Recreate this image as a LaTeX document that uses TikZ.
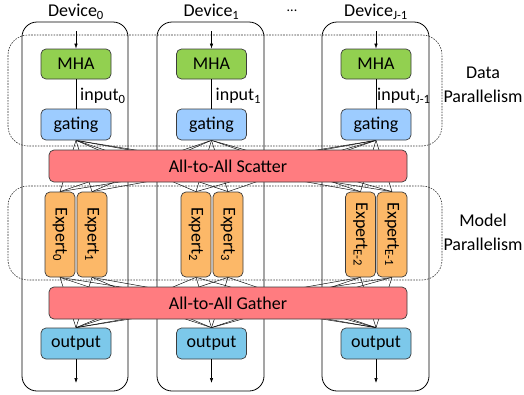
\documentclass[tikz,border=0pt]{standalone}
\usepackage{fontspec}
\setmainfont{Carlito}
\usetikzlibrary{arrows.meta,backgrounds}

\definecolor{mhagreen}{RGB}{146,208,80}
\definecolor{gateblue}{RGB}{157,204,255}
\definecolor{barred}{RGB}{255,124,128}
\definecolor{expertorange}{RGB}{252,184,104}
\definecolor{outblue}{RGB}{124,200,234}
\definecolor{edgegray}{RGB}{60,60,60}

\tikzset{
  blk/.style={draw=edgegray, line width=0.7pt, rounded corners=5pt, inner sep=0pt,
              font=\fontsize{18}{21}\selectfont},
  mhabox/.style={blk, fill=mhagreen, minimum width=70pt, minimum height=30pt},
  gatebox/.style={blk, fill=gateblue, minimum width=70pt, minimum height=31pt},
  outbox/.style={blk, fill=outblue, minimum width=70pt, minimum height=31pt},
  barbox/.style={blk, fill=barred, minimum width=358pt, minimum height=32pt},
  expbox/.style={blk, fill=expertorange, minimum width=30pt, minimum height=85pt},
  devbox/.style={draw=black, line width=0.8pt, rounded corners=15pt, minimum height=369pt},
  groupbox/.style={draw=black!80, line width=0.6pt, dash pattern=on 1.6pt off 1.2pt, rounded corners=20pt},
  lbl/.style={font=\fontsize{18}{21}\selectfont, inner sep=0pt},
  flow/.style={line width=0.6pt, -{Latex[length=5pt,width=3.5pt]}},
  link/.style={line width=0.6pt},
  fan/.style={line width=0.45pt}
}

\begin{document}
\begin{tikzpicture}[x=1pt,y=-1pt]
\useasboundingbox (0,0) rectangle (524,394);

% device columns
\node[devbox, minimum width=106pt] (dev0) at (75,206.5) {};
\node[devbox, minimum width=107pt] (dev1) at (210.5,206.5) {};
\node[devbox, minimum width=107pt] (dev2) at (375.5,206.5) {};
\node[lbl] (dlab0) at (76,12) {Device\textsubscript{0}};
\node[lbl] (dlab1) at (211.5,12) {Device\textsubscript{1}};
\node[lbl, font=\fontsize{14}{16}\selectfont] (dots) at (292,12) {\raisebox{3pt}{...}};
\node[lbl] (dlab2) at (376,12) {Device\textsubscript{J-1}};

% parallelism groups
\node[groupbox, minimum width=434pt, minimum height=111pt] (dpgrp) at (225,90.5) {};
\node[groupbox, minimum width=434pt, minimum height=94pt] (mpgrp) at (225,233) {};
\node[lbl, align=center] (dplab) at (483,85) {Data\\[3pt]Parallelism};
\node[lbl, align=center] (mplab) at (483,232) {Model\\[3pt]Parallelism};

% per-device attention and gating
\node[mhabox] (mha0) at (76,64) {MHA};
\node[mhabox] (mha1) at (211.5,64) {MHA};
\node[mhabox] (mha2) at (376,64) {MHA};
\node[gatebox] (gat0) at (76,124.5) {gating};
\node[gatebox] (gat1) at (211.5,124.5) {gating};
\node[gatebox] (gat2) at (376,124.5) {gating};
\node[lbl, anchor=west] (inp0) at (80,96) {input\textsubscript{0}};
\node[lbl, anchor=west] (inp1) at (215.5,96) {input\textsubscript{1}};
\node[lbl, anchor=west] (inp2) at (377,96) {input\textsubscript{J-1}};

% all-to-all exchanges
\node[barbox] (scatter) at (228,166) {All-to-All Scatter};
\node[barbox] (gather) at (228,303) {All-to-All Gather};

% experts
\node[expbox] (e0) at (60,234.5) {};
\node[expbox] (e1) at (92,234.5) {};
\node[expbox] (e2) at (196,234.5) {};
\node[expbox] (e3) at (228,234.5) {};
\node[expbox] (e4) at (360.5,234.5) {};
\node[expbox] (e5) at (392,234.5) {};
\node[lbl, rotate=-90] (t0) at (e0.center) {Expert\textsubscript{0}};
\node[lbl, rotate=-90] (t1) at (e1.center) {Expert\textsubscript{1}};
\node[lbl, rotate=-90] (t2) at (e2.center) {Expert\textsubscript{2}};
\node[lbl, rotate=-90] (t3) at (e3.center) {Expert\textsubscript{3}};
\node[lbl, rotate=-90] (t4) at (e4.center) {Expert\textsubscript{E-2}};
\node[lbl, rotate=-90] (t5) at (e5.center) {Expert\textsubscript{E-1}};

% outputs
\node[outbox] (out0) at (76,343.5) {output};
\node[outbox] (out1) at (211.5,343.5) {output};
\node[outbox] (out2) at (376,343.5) {output};

% entry and exit points
\coordinate (in0) at (76,31);
\coordinate (in1) at (211.5,31);
\coordinate (in2) at (376,31);
\coordinate (ex0) at (76,383);
\coordinate (ex1) at (211.5,383);
\coordinate (ex2) at (376,383);

\foreach \i in {0,1,2}{
  \draw[flow] (in\i) -- (mha\i.north);
  \draw[link] (mha\i.south) -- (gat\i.north);
  \draw[flow] (out\i.south) -- (ex\i);
}

% all-to-all routing, hidden behind the exchange bars
\begin{scope}[on background layer]
  \foreach \g in {0,1,2}{
    \foreach \e in {0,...,5}{
      \draw[fan] (gat\g.south) -- (e\e.north);
      \draw[fan] (e\e.south) -- (out\g.north);
    }
  }
\end{scope}
\end{tikzpicture}
\end{document}
